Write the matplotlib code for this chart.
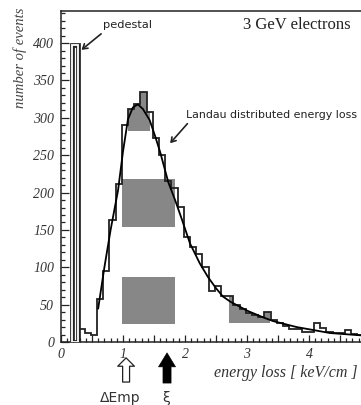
import numpy as np
import matplotlib
matplotlib.use('Agg')
import matplotlib.pyplot as plt
from matplotlib.patches import Rectangle
from matplotlib.ticker import MultipleLocator

# ---------------- data ----------------
bin_start = 0.18
bin_width = 0.1
counts = [398, 17, 12, 9, 57, 95, 163, 212, 290, 312, 318, 334, 308, 273, 250,
          215, 206, 181, 140, 127, 118, 100, 68, 75, 62, 62, 50, 44, 39, 36,
          34, 40, 30, 26, 21, 17, 17, 14, 14, 25, 19, 14, 12, 12, 16, 11, 10, 9]

curve_x = [0.60, 0.70, 0.80, 0.92, 1.00, 1.08, 1.16, 1.24, 1.32, 1.43, 1.52,
           1.60, 1.73, 1.84, 1.95, 2.08, 2.24, 2.37, 2.50, 2.61, 2.73, 2.89,
           3.00, 3.26, 3.42, 3.80, 4.34, 4.82, 5.00]
curve_y = [45, 100, 150, 203, 255, 298, 314, 318, 312, 297, 275,
           254, 214, 190, 164, 132, 105, 87, 72, 61, 54, 47,
           42, 33, 28, 20, 12, 9, 8]

peak_shade = (1.08, 1.44, 283)      # x from, x to, lower level
tail_shade = (2.71, 3.37, 25)
boxes = [(0.98, 1.84, 154, 218), (0.98, 1.84, 24, 87)]

xtick_labels = {0: '0', 1: '1', 2: '2', 3: '3', 4: '4'}
ytick_values = [0, 50, 100, 150, 200, 250, 300, 350, 400]

dEmp_x = 1.05
xi_x = 1.71

# ---------------- figure ----------------
fig = plt.figure(figsize=(3.61, 4.05), dpi=100)
ax = fig.add_axes([61 / 361, 63 / 405, 310 / 361, 331 / 405])
ax.set_xlim(0, 5.0)
ax.set_ylim(0, 443)

edges = bin_start + bin_width * np.arange(len(counts) + 1)
cnt = np.array(counts, dtype=float)

gray = '#878787'
for (x0, x1, y0, y1) in boxes:
    ax.add_patch(Rectangle((x0, y0), x1 - x0, y1 - y0, facecolor=gray,
                           edgecolor='none', zorder=1))

xs = np.repeat(edges, 2)[1:-1]
ys = np.repeat(cnt, 2)
for (a, b, lo) in (peak_shade, tail_shade):
    xc = np.clip(xs, a, b)
    ax.fill_between(xc, lo, np.maximum(ys, lo), color=gray, lw=0, zorder=1)

ax.stairs(cnt, edges, color='#222222', lw=1.3, baseline=0, zorder=3)
# pedestal drawn as a hollow (double) outline
ax.bar(edges[0], cnt[0], width=bin_width, align='edge', fill=False,
       edgecolor='#222222', lw=3.4, zorder=4)
ax.bar(edges[0], cnt[0], width=bin_width, align='edge', fill=False,
       edgecolor='white', lw=1.3, zorder=5)

ax.plot(curve_x, curve_y, color='black', lw=1.3, zorder=4)

# ---------------- axes styling ----------------
ax.spines['right'].set_visible(False)
for s in ['left', 'bottom', 'top']:
    ax.spines[s].set_linewidth(1.1)
    ax.spines[s].set_color('#222222')

major_x = np.arange(0, 5.01, 0.5)
ax.set_xticks(major_x)
ax.set_xticklabels([xtick_labels.get(int(v), '') if float(v).is_integer() else ''
                    for v in major_x])
ax.xaxis.set_minor_locator(MultipleLocator(0.1))
ax.set_yticks(ytick_values)
ax.set_yticklabels([str(v) for v in ytick_values])
ax.yaxis.set_minor_locator(MultipleLocator(10))
ax.tick_params(which='both', direction='in', top=False, right=False,
               color='#222222', width=0.9)
ax.tick_params(axis='x', which='major', length=5, pad=4)
ax.tick_params(axis='x', which='minor', length=3)
ax.tick_params(axis='y', which='major', length=6, pad=5)
ax.tick_params(axis='y', which='minor', length=3)
for lab in ax.get_xticklabels() + ax.get_yticklabels():
    lab.set_fontfamily('Liberation Serif')
    lab.set_fontstyle('italic')
    lab.set_fontsize(10)
    lab.set_color('#333333')

fig.text(20 / 361, 1 - 58 / 405, 'number of events', rotation=90,
         ha='center', va='center', family='Liberation Serif', style='italic',
         fontsize=10.5, color='#444444')
fig.text(214 / 361, 1 - 373 / 405, 'energy loss [ keV/cm ]', ha='left',
         va='center', family='Liberation Serif', style='italic', fontsize=11.5,
         color='#333333')

ax.text(2.94, 424, '3 GeV electrons', family='Liberation Serif', fontsize=12,
        ha='left', va='center', color='#222222')

ax.annotate('pedestal', xy=(0.33, 391), xytext=(0.68, 424),
            fontsize=8.2, family='DejaVu Sans', color='#222222',
            ha='left', va='center',
            arrowprops=dict(arrowstyle='->,head_length=0.4,head_width=0.25',
                            lw=1.2, color='#222222', shrinkA=1, shrinkB=0,
                            relpos=(0.05, 0.0)))
ax.annotate('Landau distributed energy loss', xy=(1.76, 266),
            xytext=(2.01, 304), fontsize=7.9, family='DejaVu Sans',
            color='#222222', ha='left', va='center', annotation_clip=False,
            arrowprops=dict(arrowstyle='->,head_length=0.4,head_width=0.25',
                            lw=1.2, color='#222222', shrinkA=1, shrinkB=0,
                            relpos=(0.03, 0.0)))

tr = ax.get_xaxis_transform()
ax.annotate('', xy=(dEmp_x, -0.048), xycoords=tr, xytext=(dEmp_x, -0.121),
            textcoords=tr, annotation_clip=False,
            arrowprops=dict(arrowstyle='simple,head_length=0.6,head_width=1.2,tail_width=0.5',
                            fc='white', ec='#222222', lw=0.9, shrinkA=0,
                            shrinkB=0, mutation_scale=10))
ax.annotate('', xy=(xi_x, -0.033), xycoords=tr, xytext=(xi_x, -0.124),
            textcoords=tr, annotation_clip=False,
            arrowprops=dict(arrowstyle='simple,head_length=1.0,head_width=1.22,tail_width=0.58',
                            fc='black', ec='black', lw=0.5, shrinkA=0,
                            shrinkB=0, mutation_scale=10))
ax.text(0.95, -0.169, 'ΔEmp', transform=tr, ha='center', va='center',
        family='DejaVu Sans', fontsize=10, color='#333333')
ax.text(1.69, -0.169, 'ξ', transform=tr, ha='center', va='center',
        family='DejaVu Sans', fontsize=10, color='#333333')

fig.savefig('out.png', dpi=100)
